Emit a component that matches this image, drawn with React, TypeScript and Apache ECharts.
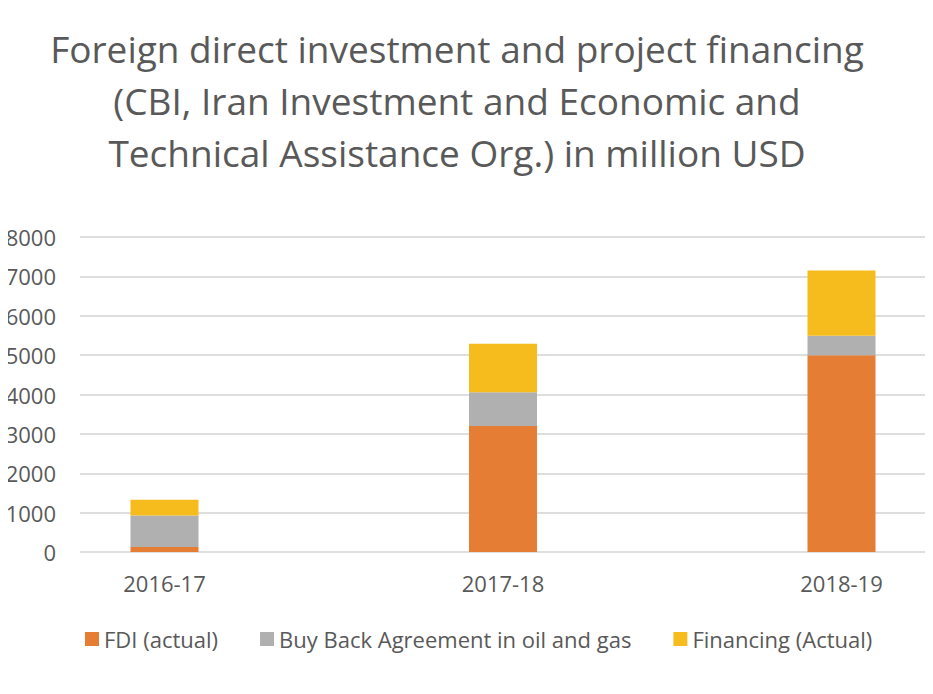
import React, { useEffect, useRef } from "react";
import * as echarts from "echarts";

const categories = ["2016-17", "2017-18", "2018-19"];
const fdiActual = [130, 3200, 5000];
const buyBack = [800, 860, 490];
const financing = [400, 1230, 1660];
const yTicks = { min: 0, max: 8000, interval: 1000 };
const seriesNames = ["FDI (actual)", "Buy Back Agreement in oil and gas", "Financing (Actual)"];
const colors = ["#E67D34", "#B0B0B0", "#F6BC1E"];
const titleText =
  "Foreign direct investment and project financing\n(CBI, Iran Investment and Economic and\nTechnical Assistance Org.) in million USD";

const FONT = "'Open Sans', 'Noto Sans', sans-serif";
const TEXT = "#595959";

export default function App() {
  const ref = useRef<HTMLDivElement>(null);
  useEffect(() => {
    if (!ref.current) return;
    const chart = echarts.init(ref.current, undefined, { renderer: "svg" });
    const top = 237;
    const bottom = 142;
    chart.setOption({
      animation: false,
      backgroundColor: "#ffffff",
      textStyle: { fontFamily: FONT },
      title: {
        text: titleText,
        left: 452,
        textAlign: "center",
        top: 17,
        textStyle: {
          fontFamily: FONT,
          fontSize: 37,
          fontWeight: "normal",
          color: TEXT,
          lineHeight: 52,
        },
      },
      legend: {
        left: 85,
        top: 628,
        padding: 0,
        itemWidth: 14,
        itemHeight: 14,
        itemGap: 42,
        icon: "rect",
        textStyle: { fontFamily: FONT, fontSize: 22, color: TEXT },
        data: seriesNames,
      },
      grid: [
        { left: 80, right: 8, top, bottom },
        { left: 164.5, right: 91.5, top, bottom },
      ],
      xAxis: [
        {
          gridIndex: 0,
          type: "category",
          data: categories,
          show: false,
        },
        {
          gridIndex: 1,
          type: "category",
          data: categories,
          boundaryGap: false,
          axisLine: { show: false },
          axisTick: { show: false },
          axisLabel: { fontFamily: FONT, fontSize: 22, color: TEXT, margin: 20 },
        },
      ],
      yAxis: [
        {
          gridIndex: 0,
          type: "value",
          min: yTicks.min,
          max: yTicks.max,
          interval: yTicks.interval,
          axisLine: { show: false },
          axisTick: { show: false },
          axisLabel: {
            fontFamily: FONT,
            fontSize: 22,
            color: TEXT,
            margin: 24,
            formatter: (v: number) => String(v),
          },
          splitLine: { lineStyle: { color: "#DEDEDE", width: 2 } },
        },
        {
          gridIndex: 1,
          type: "value",
          min: yTicks.min,
          max: yTicks.max,
          interval: yTicks.interval,
          show: false,
          splitLine: { show: false },
        },
      ],
      series: [
        { name: seriesNames[0], data: fdiActual, color: colors[0] },
        { name: seriesNames[1], data: buyBack, color: colors[1] },
        { name: seriesNames[2], data: financing, color: colors[2] },
      ].map((s) => ({
        ...s,
        type: "bar",
        stack: "total",
        xAxisIndex: 1,
        yAxisIndex: 1,
        barWidth: 68,
        itemStyle: { color: s.color },
      })),
    });
    return () => chart.dispose();
  }, []);
  return <div ref={ref} style={{ width: 933, height: 694, margin: -8 }} />;
}
